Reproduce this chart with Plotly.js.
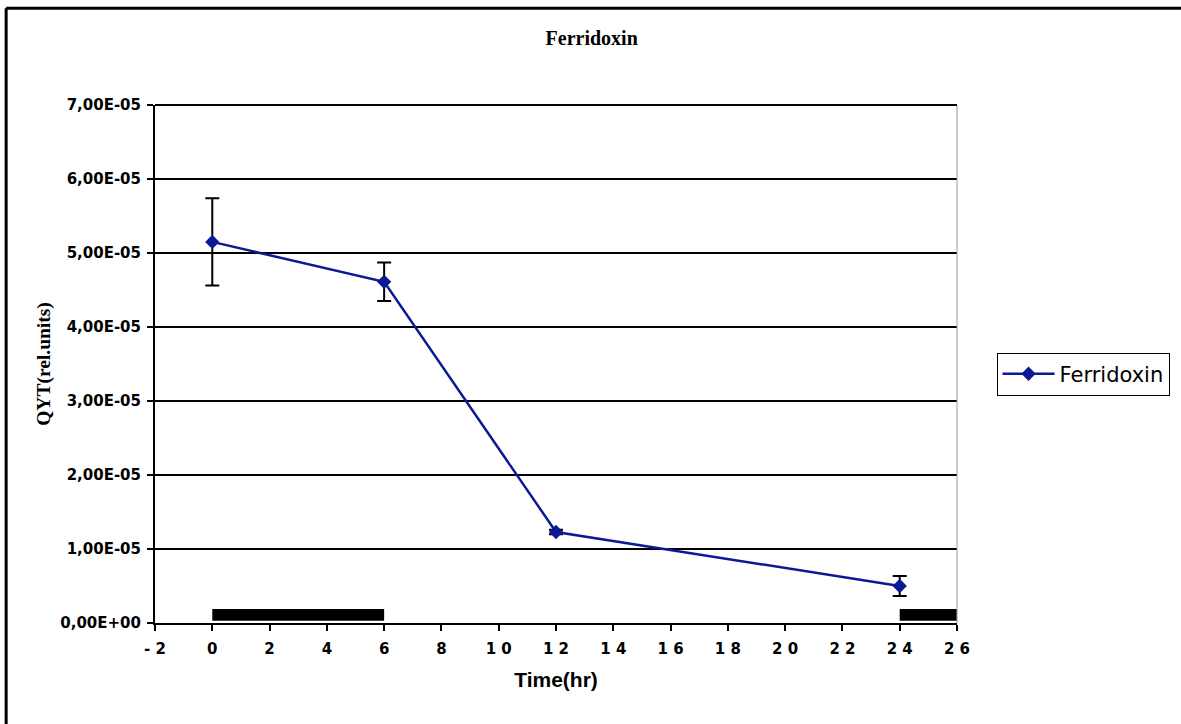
<!DOCTYPE html>
<html>
<head>
<meta charset="utf-8">
<script src="https://cdn.plot.ly/plotly-3.0.1.min.js"></script>
<style>html,body{margin:0;padding:0;background:#fff;}</style>
</head>
<body>
<div id="chart" style="width:1181px;height:724px;"></div>
<script>
// Data
const seriesName = 'Ferridoxin';
const timeHr = [0, 6, 12, 24];
const qyt = [5.15e-5, 4.61e-5, 1.23e-5, 0.50e-5];
const qytErr = [0.59e-5, 0.26e-5, 0.03e-5, 0.135e-5];
// dark periods (black bars)
const darkStart = [0, 24];
const darkEnd = [6, 26];
const darkBarBottom = 0.03e-5;
const darkBarTop = 0.19e-5;
// ticks
const xTickVals = [-2,0,2,4,6,8,10,12,14,16,18,20,22,24,26];
const xTickText = ['- 2','0','2','4','6','8','1 0','1 2','1 4','1 6','1 8','2 0','2 2','2 4','2 6'];
const yTickVals = [0,1e-5,2e-5,3e-5,4e-5,5e-5,6e-5,7e-5];
const yTickText = ['0,00E+00','1,00E-05','2,00E-05','3,00E-05','4,00E-05','5,00E-05','6,00E-05','7,00E-05'];

const trace = {
  x: timeHr, y: qyt, name: seriesName, type: 'scatter', mode: 'lines+markers',
  line: {color: '#0b1a94', width: 2.5},
  marker: {symbol: 'diamond', size: 11, color: '#0b1a94'},
  error_y: {type: 'data', array: qytErr, visible: true, color: '#000', thickness: 2, width: 7}
};

const shapes = [];
for (let i = 0; i < darkStart.length; i++) {
  shapes.push({type: 'rect', xref: 'x', yref: 'y', x0: darkStart[i], x1: darkEnd[i],
    y0: darkBarBottom, y1: darkBarTop, fillcolor: '#000', line: {width: 0}, layer: 'above'});
}
// right border of plot area (thin grey)
shapes.push({type: 'line', xref: 'paper', yref: 'paper', x0: 1, x1: 1, y0: 0, y1: 1,
  line: {color: '#999', width: 1}});
// top gridline at range edge
shapes.push({type: 'line', xref: 'paper', yref: 'paper', x0: 0, x1: 1, y0: 1, y1: 1,
  line: {color: '#000', width: 2}});
// outer chart frame (top and left edges only; the rest runs off the picture)
shapes.push({type: 'line', xref: 'paper', yref: 'paper', x0: -0.1856, x1: 1.6, y0: 1.187, y1: 1.187,
  line: {color: '#000', width: 3}, layer: 'below'});
shapes.push({type: 'line', xref: 'paper', yref: 'paper', x0: -0.1856, x1: -0.1856, y0: -0.6, y1: 1.187,
  line: {color: '#000', width: 3}, layer: 'below'});

const tickFont = {family: 'DejaVu Sans', size: 15, color: '#000', weight: 'bold'};

const layout = {
  width: 1181, height: 724,
  margin: {l: 155, r: 223, t: 105, b: 101},
  paper_bgcolor: '#fff', plot_bgcolor: '#fff',
  showlegend: true,
  title: {text: '<b>Ferridoxin</b>', x: 0.501, xref: 'container', xanchor: 'center',
    y: 0.948, yref: 'container', yanchor: 'middle',
    font: {family: 'Liberation Serif', size: 20, color: '#000'}},
  xaxis: {
    range: [-2, 26], tickmode: 'array', tickvals: xTickVals, ticktext: xTickText,
    showgrid: false, zeroline: false, showline: true, linecolor: '#000', linewidth: 2,
    ticks: 'outside', ticklen: 6, tickwidth: 2, tickcolor: '#000', ticklabelstandoff: 5,
    tickfont: tickFont,
    title: {text: 'Time(hr)', standoff: 15, font: {family: 'Liberation Sans', size: 21, color: '#000', weight: 'bold'}}
  },
  yaxis: {
    range: [0, 7e-5], tickmode: 'array', tickvals: yTickVals, ticktext: yTickText,
    showgrid: true, gridcolor: '#000', gridwidth: 2, zeroline: false,
    showline: true, linecolor: '#000', linewidth: 2,
    ticks: 'outside', ticklen: 6, tickwidth: 2, tickcolor: '#000', ticklabelstandoff: 3,
    tickfont: tickFont,
    title: {text: '<b>QYT(rel.units)</b>', standoff: 4, font: {family: 'Liberation Serif', size: 19.5, color: '#000'}}
  },
  legend: {x: 1.048, xanchor: 'left', y: 0.522, yanchor: 'top',
    bordercolor: '#000', borderwidth: 1, bgcolor: '#fff', itemwidth: 52,
    font: {family: 'DejaVu Sans', size: 21, color: '#000'}},
  shapes: shapes
};

Plotly.newPlot('chart', [trace], layout, {displayModeBar: false, staticPlot: true});
</script>
</body>
</html>
